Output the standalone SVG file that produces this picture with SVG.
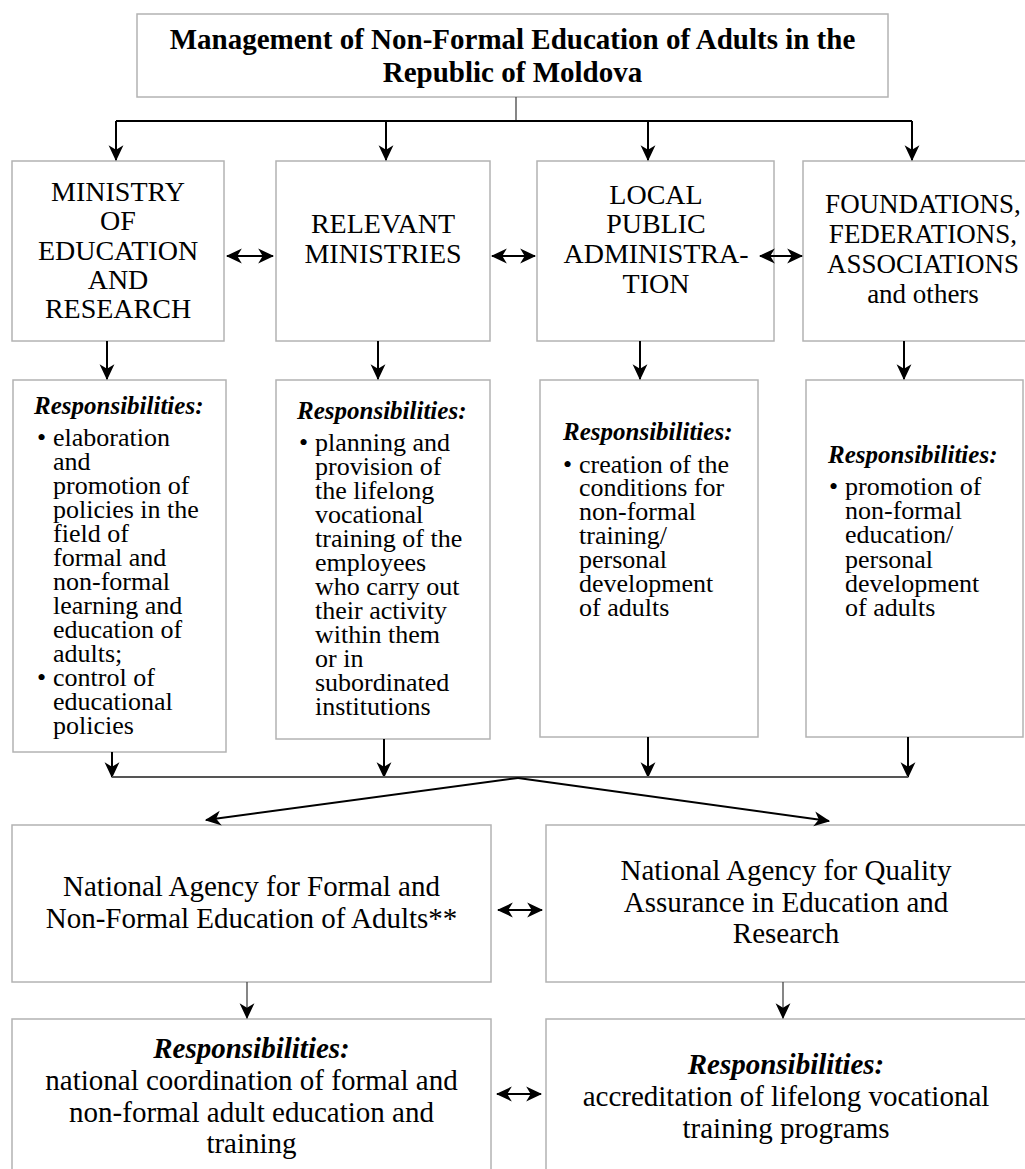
<svg xmlns="http://www.w3.org/2000/svg" width="1025" height="1169" viewBox="0 0 1025 1169" font-family="'Liberation Serif', 'DejaVu Serif', serif">
<style>
text{font-family:'Liberation Serif','DejaVu Serif',serif;fill:#000}
.box{fill:#fff;stroke:#b3b3b3;stroke-width:1.5}
.t{font-weight:bold;font-size:29px;text-anchor:middle}
.h{font-size:28px;text-anchor:middle}
.h4{font-size:27px;text-anchor:middle}
.r{font-size:26px}
.rh{font-size:25px;font-weight:bold;font-style:italic}
.b{font-size:29px;text-anchor:middle}
.bh{font-size:29px;font-weight:bold;font-style:italic;text-anchor:middle}
.c{fill:none;stroke:#000;stroke-width:2}
.g{fill:none;stroke:#555;stroke-width:2}
.th{fill:none;stroke:#444;stroke-width:1.3}
</style>
<defs>
<marker id="a" markerUnits="userSpaceOnUse" markerWidth="16" markerHeight="16" viewBox="0 0 14 14" refX="13" refY="7" orient="auto-start-reverse">
<path d="M0,0.5 L14,7 L0,13.5 L4,7 z" fill="#000"/>
</marker>
</defs>
<rect width="1025" height="1169" fill="#fff"/>

<g id="title">
<rect class="box" x="137" y="14" width="751" height="83"/>
<text class="t" x="512.5" y="49">Management of Non-Formal Education of Adults in the</text>
<text class="t" x="512.5" y="82">Republic of Moldova</text>
</g>

<g id="ministry">
<rect class="box" x="12" y="161" width="212" height="180"/>
<text class="h" x="118" y="201">MINISTRY</text>
<text class="h" x="118" y="230">OF</text>
<text class="h" x="118" y="260">EDUCATION</text>
<text class="h" x="118" y="289">AND</text>
<text class="h" x="118" y="318">RESEARCH</text>
</g>
<g id="relevant">
<rect class="box" x="276" y="161" width="214" height="180"/>
<text class="h" x="383" y="233">RELEVANT</text>
<text class="h" x="383" y="263">MINISTRIES</text>
</g>
<g id="local">
<rect class="box" x="537" y="161" width="237" height="180"/>
<text class="h" x="656" y="204">LOCAL</text>
<text class="h" x="656" y="233">PUBLIC</text>
<text class="h" x="656" y="263">ADMINISTRA-</text>
<text class="h" x="656" y="293">TION</text>
</g>
<g id="foundations">
<rect class="box" x="803" y="161" width="240" height="180"/>
<text class="h4" x="923" y="213">FOUNDATIONS,</text>
<text class="h4" x="923" y="243">FEDERATIONS,</text>
<text class="h4" x="923" y="273">ASSOCIATIONS</text>
<text class="h4" x="923" y="303">and others</text>
</g>

<g id="resp-ministry">
<rect class="box" x="13" y="380" width="213" height="372"/>
<text class="rh" x="34" y="414">Responsibilities:</text>
<text class="r"><tspan x="37" y="446">•</tspan></text>
<text class="r"><tspan x="37" y="686">•</tspan></text>
<text class="r">
<tspan x="53" y="446">elaboration</tspan>
<tspan x="53" y="470">and</tspan>
<tspan x="53" y="494">promotion of</tspan>
<tspan x="53" y="518">policies in the</tspan>
<tspan x="53" y="542">field of</tspan>
<tspan x="53" y="566">formal and</tspan>
<tspan x="53" y="590">non-formal</tspan>
<tspan x="53" y="614">learning and</tspan>
<tspan x="53" y="638">education of</tspan>
<tspan x="53" y="662">adults;</tspan>
<tspan x="53" y="686">control of</tspan>
<tspan x="53" y="710">educational</tspan>
<tspan x="53" y="734">policies</tspan>
</text>
</g>
<g id="resp-relevant">
<rect class="box" x="276" y="380" width="214" height="359"/>
<text class="rh" x="297" y="419">Responsibilities:</text>
<text class="r"><tspan x="299" y="451">•</tspan></text>
<text class="r">
<tspan x="315" y="451">planning and</tspan>
<tspan x="315" y="475">provision of</tspan>
<tspan x="315" y="499">the lifelong</tspan>
<tspan x="315" y="523">vocational</tspan>
<tspan x="315" y="547">training of the</tspan>
<tspan x="315" y="571">employees</tspan>
<tspan x="315" y="595">who carry out</tspan>
<tspan x="315" y="619">their activity</tspan>
<tspan x="315" y="643">within them</tspan>
<tspan x="315" y="667">or in</tspan>
<tspan x="315" y="691">subordinated</tspan>
<tspan x="315" y="715">institutions</tspan>
</text>
</g>
<g id="resp-local">
<rect class="box" x="540" y="380" width="218" height="357"/>
<text class="rh" x="563" y="440">Responsibilities:</text>
<text class="r"><tspan x="563" y="473">•</tspan></text>
<text class="r">
<tspan x="579" y="473">creation of the</tspan>
<tspan x="579" y="496">conditions for</tspan>
<tspan x="579" y="520">non-formal</tspan>
<tspan x="579" y="544">training/</tspan>
<tspan x="579" y="568">personal</tspan>
<tspan x="579" y="592">development</tspan>
<tspan x="579" y="616">of adults</tspan>
</text>
</g>
<g id="resp-foundations">
<rect class="box" x="806" y="380" width="217" height="357"/>
<text class="rh" x="828" y="463">Responsibilities:</text>
<text class="r"><tspan x="829" y="495">•</tspan></text>
<text class="r">
<tspan x="845" y="495">promotion of</tspan>
<tspan x="845" y="519">non-formal</tspan>
<tspan x="845" y="543">education/</tspan>
<tspan x="845" y="568">personal</tspan>
<tspan x="845" y="592">development</tspan>
<tspan x="845" y="616">of adults</tspan>
</text>
</g>

<g id="agency-formal">
<rect class="box" x="12" y="825" width="479" height="157"/>
<text class="b" x="251.5" y="896">National Agency for Formal and</text>
<text class="b" x="251.5" y="928">Non-Formal Education of Adults**</text>
</g>
<g id="agency-quality">
<rect class="box" x="546" y="825" width="490" height="157"/>
<text class="b" x="786" y="880">National Agency for Quality</text>
<text class="b" x="786" y="912">Assurance in Education and</text>
<text class="b" x="786" y="943">Research</text>
</g>
<g id="resp-formal">
<rect class="box" x="12" y="1019" width="479" height="170"/>
<text class="bh" x="251.5" y="1058">Responsibilities:</text>
<text class="b" x="251.5" y="1090">national coordination of formal and</text>
<text class="b" x="251.5" y="1122">non-formal adult education and</text>
<text class="b" x="251.5" y="1153">training</text>
</g>
<g id="resp-quality">
<rect class="box" x="546" y="1019" width="490" height="170"/>
<text class="bh" x="786" y="1074">Responsibilities:</text>
<text class="b" x="786" y="1106">accreditation of lifelong vocational</text>
<text class="b" x="786" y="1138">training programs</text>
</g>

<g id="connectors">
<path class="th" d="M516,97 V121"/>
<path class="c" d="M116,121 H912"/>
<path class="c" d="M116,121 V160" marker-end="url(#a)"/>
<path class="c" d="M386,121 V160" marker-end="url(#a)"/>
<path class="c" d="M648,121 V160" marker-end="url(#a)"/>
<path class="c" d="M912,121 V160" marker-end="url(#a)"/>
<path class="c" d="M227,256 H273" marker-start="url(#a)" marker-end="url(#a)"/>
<path class="c" d="M492,256 H535" marker-start="url(#a)" marker-end="url(#a)"/>
<path class="c" d="M760,256 H802" marker-start="url(#a)" marker-end="url(#a)"/>
<path class="c" d="M107,341 V379" marker-end="url(#a)"/>
<path class="c" d="M378,341 V379" marker-end="url(#a)"/>
<path class="c" d="M640,341 V379" marker-end="url(#a)"/>
<path class="c" d="M904,341 V379" marker-end="url(#a)"/>
<path class="c" d="M112,752 V777" marker-end="url(#a)"/>
<path class="c" d="M384,739 V777" marker-end="url(#a)"/>
<path class="c" d="M648,737 V777" marker-end="url(#a)"/>
<path class="c" d="M908,737 V777" marker-end="url(#a)"/>
<path class="g" d="M112,777 H908"/>
<path class="c" d="M518,778 L206,820" marker-end="url(#a)"/>
<path class="c" d="M518,778 L829,821" marker-end="url(#a)"/>
<path class="c" d="M498,910 H542" marker-start="url(#a)" marker-end="url(#a)"/>
<path class="th" d="M247,982 V1018" marker-end="url(#a)"/>
<path class="th" d="M783,982 V1018" marker-end="url(#a)"/>
<path class="c" d="M497,1094 H541" marker-start="url(#a)" marker-end="url(#a)"/>
</g>
</svg>
